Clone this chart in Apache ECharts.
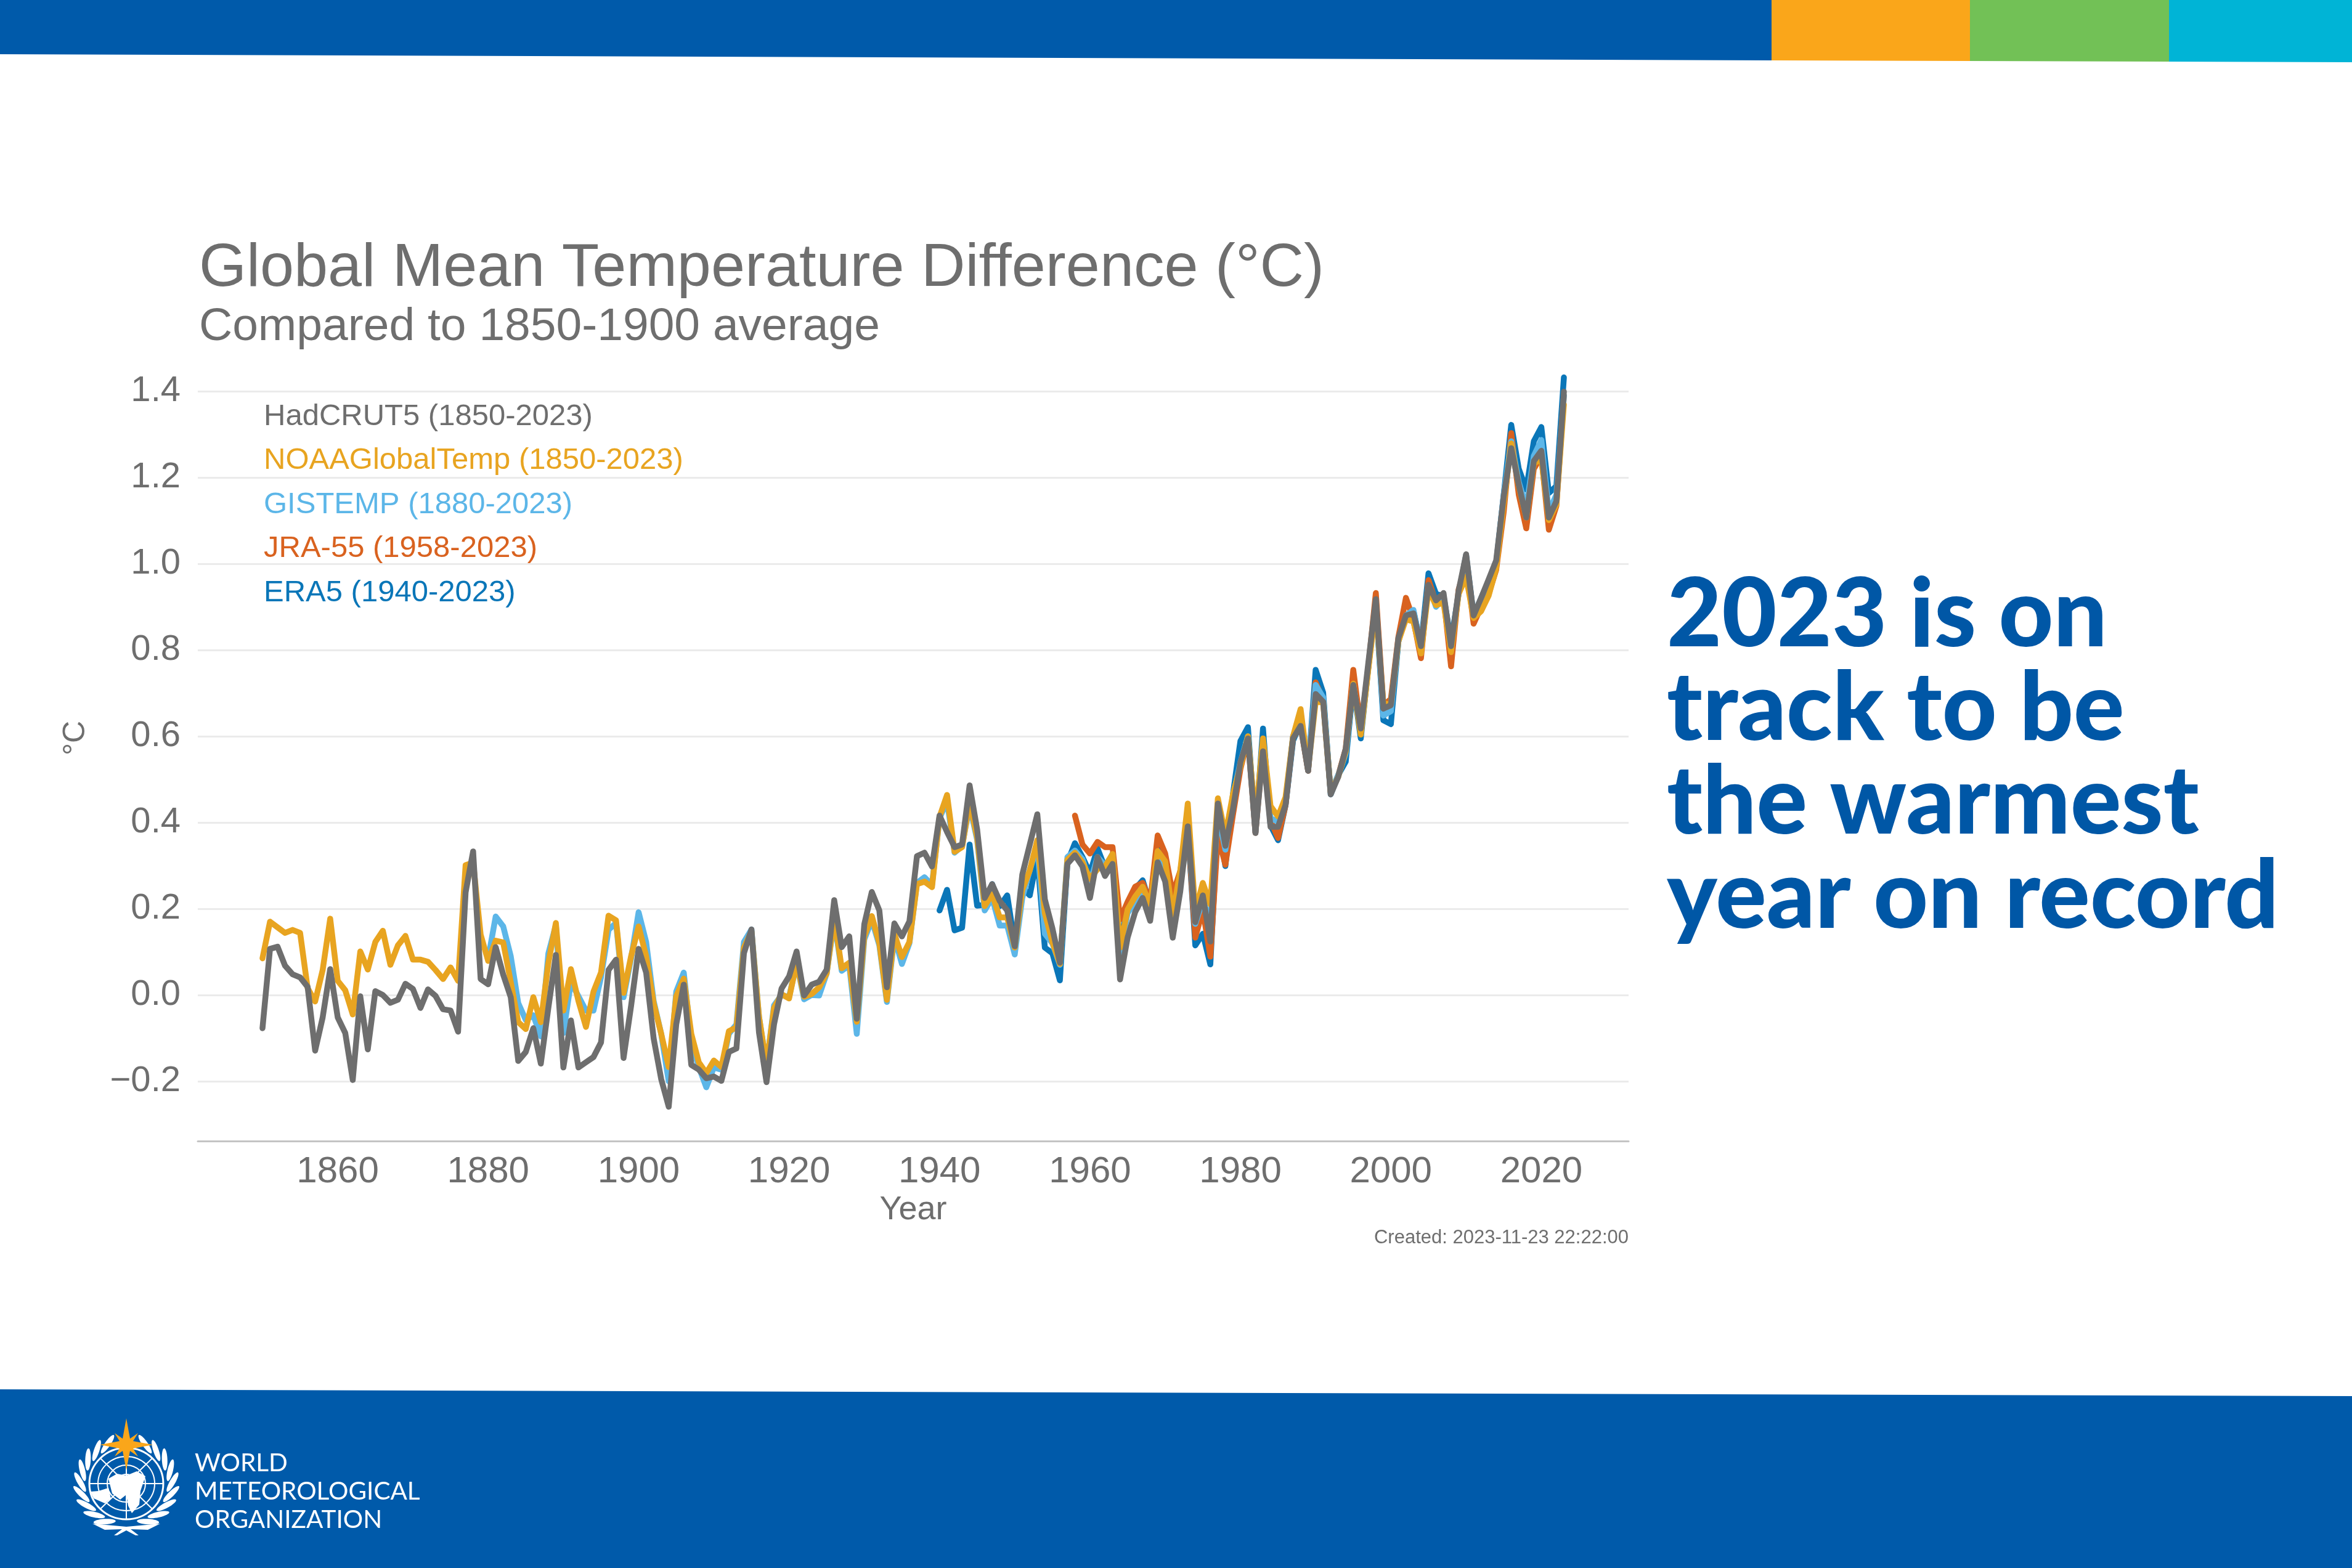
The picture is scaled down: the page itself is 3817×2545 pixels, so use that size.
<!DOCTYPE html>
<html>
<head>
<meta charset="utf-8">
<title>Global Mean Temperature Difference</title>
<style>
html,body{margin:0;padding:0;background:#fff}
#chart{width:3817px;height:2545px}
</style>
<script src="https://cdn.jsdelivr.net/npm/echarts@6/dist/echarts.min.js"></script>
</head>
<body>
<div id="chart"></div>
<script>
// values, one per year
var hadcrut5 = [ // 1850-2023
-0.077,0.107,0.112,0.068,0.048,0.041,0.019,-0.129,-0.052,0.060,
-0.052,-0.088,-0.197,-0.003,-0.126,0.009,0.000,-0.018,-0.011,0.026,
0.014,-0.030,0.013,-0.002,-0.033,-0.036,-0.085,0.238,0.333,0.037,
0.025,0.111,0.047,-0.005,-0.153,-0.132,-0.077,-0.159,-0.030,0.093,
-0.168,-0.059,-0.168,-0.156,-0.144,-0.110,0.058,0.082,-0.146,-0.025,
0.107,0.052,-0.101,-0.195,-0.259,-0.068,0.024,-0.162,-0.173,-0.193,
-0.189,-0.199,-0.132,-0.124,0.097,0.152,-0.087,-0.202,-0.068,0.015,
0.043,0.101,-0.001,0.024,0.031,0.059,0.220,0.111,0.136,-0.055,
0.164,0.239,0.196,0.018,0.166,0.136,0.171,0.322,0.330,0.298,
0.416,0.378,0.343,0.349,0.486,0.384,0.225,0.257,0.218,0.196,
0.113,0.279,0.349,0.419,0.222,0.155,0.075,0.304,0.324,0.298,
0.225,0.320,0.276,0.304,0.036,0.133,0.192,0.225,0.172,0.308,
0.263,0.133,0.240,0.391,0.169,0.231,0.124,0.444,0.346,0.430,
0.540,0.595,0.376,0.565,0.390,0.390,0.441,0.595,0.624,0.520,
0.698,0.680,0.465,0.506,0.571,0.719,0.618,0.770,0.918,0.664,
0.672,0.828,0.880,0.885,0.809,0.951,0.915,0.932,0.809,0.937,
1.022,0.880,0.921,0.964,1.008,1.156,1.268,1.183,1.107,1.238,
1.262,1.107,1.145,1.399];
var noaa = [ // 1850-2023
0.085,0.170,0.157,0.144,0.151,0.144,0.016,-0.015,0.058,0.177,
0.033,0.011,-0.045,0.101,0.059,0.123,0.149,0.070,0.115,0.137,
0.082,0.082,0.077,0.058,0.037,0.064,0.033,0.301,0.307,0.140,
0.079,0.126,0.122,0.030,-0.063,-0.079,-0.005,-0.063,0.074,0.167,
-0.036,0.060,-0.014,-0.074,0.008,0.052,0.184,0.173,0.005,0.090,
0.159,0.090,-0.019,-0.090,-0.167,-0.003,0.038,-0.090,-0.156,-0.181,
-0.152,-0.167,-0.084,-0.075,0.110,0.148,-0.050,-0.164,-0.030,0.002,
-0.008,0.075,-0.004,0.002,0.018,0.050,0.180,0.062,0.075,-0.062,
0.136,0.183,0.120,-0.011,0.142,0.088,0.123,0.257,0.263,0.250,
0.413,0.464,0.332,0.343,0.448,0.365,0.206,0.234,0.180,0.180,
0.110,0.244,0.289,0.359,0.190,0.123,0.072,0.314,0.330,0.308,
0.269,0.292,0.298,0.327,0.110,0.198,0.228,0.251,0.210,0.334,
0.310,0.186,0.287,0.444,0.192,0.260,0.210,0.456,0.370,0.465,
0.530,0.600,0.405,0.595,0.438,0.414,0.459,0.600,0.663,0.524,
0.680,0.678,0.470,0.506,0.565,0.722,0.604,0.755,0.900,0.675,
0.675,0.820,0.871,0.866,0.792,0.940,0.904,0.910,0.795,0.930,
0.970,0.874,0.890,0.926,0.990,1.140,1.279,1.180,1.107,1.232,
1.243,1.101,1.137,1.369];
var gistemp = [ // 1880-2023
0.085,0.182,0.159,0.090,-0.019,-0.058,-0.047,-0.096,0.096,0.162,
-0.088,0.030,-0.003,-0.036,-0.036,0.041,0.151,0.167,-0.005,0.085,
0.192,0.123,-0.014,-0.090,-0.200,0.008,0.052,-0.107,-0.167,-0.214,
-0.168,-0.173,-0.090,-0.068,0.123,0.152,-0.050,-0.165,-0.024,0.000,
-0.005,0.075,-0.010,0.000,-0.001,0.050,0.174,0.056,0.069,-0.090,
0.129,0.174,0.115,-0.016,0.135,0.072,0.120,0.260,0.273,0.255,
0.410,0.450,0.330,0.345,0.440,0.360,0.196,0.225,0.161,0.161,
0.094,0.225,0.290,0.346,0.142,0.120,0.070,0.320,0.335,0.315,
0.260,0.320,0.300,0.325,0.090,0.190,0.215,0.231,0.190,0.325,
0.290,0.175,0.280,0.390,0.165,0.220,0.169,0.420,0.337,0.460,
0.540,0.600,0.380,0.580,0.410,0.402,0.450,0.600,0.640,0.530,
0.719,0.690,0.470,0.510,0.560,0.720,0.610,0.760,0.910,0.648,
0.658,0.820,0.880,0.893,0.810,0.950,0.900,0.920,0.810,0.930,
0.990,0.880,0.920,0.960,1.000,1.160,1.284,1.190,1.130,1.250,
1.287,1.120,1.160,1.390];
var jra55 = [ // 1958-2023
0.416,0.349,
0.328,0.355,0.343,0.343,0.175,0.216,0.251,0.260,0.216,0.370,
0.328,0.234,0.287,0.388,0.133,0.198,0.089,0.370,0.302,0.417,
0.524,0.595,0.376,0.571,0.405,0.364,0.441,0.600,0.624,0.520,
0.725,0.683,0.470,0.509,0.571,0.754,0.618,0.760,0.932,0.672,
0.686,0.830,0.921,0.870,0.781,0.962,0.910,0.925,0.762,0.940,
1.000,0.861,0.900,0.930,0.986,1.120,1.303,1.160,1.082,1.220,
1.250,1.079,1.134,1.390];
var era5 = [ // 1940-2023
0.196,0.244,0.150,0.156,0.349,0.207,0.209,0.257,0.206,0.231,
0.117,0.250,0.231,0.320,0.110,0.097,0.034,0.308,0.352,0.320,
0.282,0.340,0.295,0.327,0.110,0.210,0.246,0.266,0.210,0.346,
0.310,0.180,0.280,0.390,0.115,0.142,0.071,0.405,0.299,0.465,
0.589,0.621,0.376,0.618,0.393,0.359,0.440,0.590,0.630,0.520,
0.754,0.701,0.465,0.510,0.541,0.720,0.595,0.760,0.910,0.637,
0.628,0.820,0.880,0.890,0.810,0.978,0.930,0.925,0.820,0.930,
1.020,0.880,0.920,0.960,1.000,1.160,1.322,1.220,1.172,1.284,
1.317,1.164,1.180,1.432];

var xTicks = [1860,1880,1900,1920,1940,1960,1980,2000,2020];
var yTicks = [-0.2,0,0.2,0.4,0.6,0.8,1.0,1.2,1.4];
var legendNames = ['HadCRUT5 (1850-2023)','NOAAGlobalTemp (1850-2023)','GISTEMP (1880-2023)','JRA-55 (1958-2023)','ERA5 (1940-2023)'];
var legendColors = ['#6e6e6e','#e8a420','#5cb6e8','#d9621f','#0a76b8'];
var headline = ['2023 is on','track to be','the warmest','year on record'];
var logoWords = ['WORLD','METEOROLOGICAL','ORGANIZATION'];

var FONT = '"Liberation Sans"';
var WMO_BLUE = '#005aaa';

function pairs(startYear, values){
    return values.map(function(v,i){ return [startYear+i, v]; });
}
function line(idx, startYear, values){
    return {
        name: legendNames[idx],
        type: 'line',
        showSymbol: false,
        symbol: 'none',
        clip: false,
        animation: false,
        lineStyle: {color: legendColors[idx], width: 9.5, cap: 'round', join: 'round'},
        itemStyle: {color: legendColors[idx]},
        data: pairs(startYear, values)
    };
}

// the slide furniture: colour bands, headline, logo
function poly(points, fill, z){
    return {type:'polygon', silent:true, z:z||1, shape:{points:points}, style:{fill:fill}};
}
var deco = [
    poly([[0,0],[2875,0],[2875,98],[0,88]], WMO_BLUE),
    poly([[2875,0],[3197,0],[3197,99],[2875,98]], '#faa61a'),
    poly([[3197,0],[3520,0],[3520,100],[3197,99]], '#72c156'),
    poly([[3520,0],[3817,0],[3817,101],[3520,100]], '#00b4d6'),
    poly([[0,2255],[3817,2266],[3817,2545],[0,2545]], WMO_BLUE)
];
headline.forEach(function(t,i){
    deco.push({type:'text', silent:true, z:5, x:2705, y:922+i*152.3,
        style:{text:t, fill:'#0057a6', font:'900 154px Lato'}});
});
logoWords.forEach(function(t,i){
    deco.push({type:'text', silent:true, z:5, x:316, y:2354+i*46.2,
        style:{text:t, fill:'#fff', font:'40.5px Lato'}});
});
deco.push({type:'text', silent:true, z:5, x:2643, y:1994,
    style:{text:'Created: 2023-11-23 22:22:00', fill:'#6e6e6e', font:'31px '+FONT, textAlign:'right'}});

// emblem
(function(){
    var cx=205, cy=2408;
    var ring = function(rx,ry,w){ return {type:'ellipse', silent:true, z:5, shape:{cx:cx,cy:cy,rx:rx,ry:ry}, style:{fill:'none',stroke:'#fff',lineWidth:w||2}}; };
    deco.push(ring(60,58,3), ring(46,44), ring(31,30), ring(16,15));
    [[cx-60,cy,cx+60,cy],[cx,cy-58,cx,cy+58],[cx-42,cy-41,cx+42,cy+41],[cx+42,cy-41,cx-42,cy+41]].forEach(function(l){
        deco.push({type:'line', silent:true, z:5, shape:{x1:l[0],y1:l[1],x2:l[2],y2:l[3]}, style:{stroke:'#fff',lineWidth:2}});
    });
    deco.push(poly([[176,2415],[160,2420],[147,2421],[152,2432],[170,2440],[180,2432]], '#fff', 6));
    deco.push(poly([[176,2400],[190,2392],[205,2395],[222,2388],[236,2396],[228,2420],[226,2442],[214,2456],[208,2444],[205,2426],[195,2434],[182,2424]], '#fff', 6));
    // laurel, leaves follow the arc
    for(var side=-1; side<=1; side+=2){
        for(var i=0;i<9;i++){
            var a=(28+i*16)*Math.PI/180;
            var lx=cx+side*75*Math.sin(a), ly=2408+70*Math.cos(a);
            var rot=Math.atan2(Math.sin(a), side*Math.cos(a)) - side*0.55;
            deco.push({type:'ellipse', silent:true, z:5, x:lx, y:ly, rotation:rot,
                shape:{cx:0,cy:0,rx:18,ry:4.5}, style:{fill:'#fff'}});
        }
    }
    deco.push(poly([[150,2473],[205,2478],[260,2473],[240,2483],[212,2482],[225,2492],[220,2492],[205,2484],[190,2492],[185,2492],[198,2482],[170,2483]], '#fff', 5));
    // star
    var star=[[205,2302],[211,2335],[224,2326],[216,2339],[248,2345],[216,2351],[224,2364],[211,2355],[205,2386],[199,2355],[186,2364],[194,2351],[162,2345],[194,2339],[186,2326],[199,2335]];
    deco.push(poly(star,'#faa61a',7));
})();

var chart = echarts.init(document.getElementById('chart'));
chart.setOption({
    backgroundColor: '#fff',
    animation: false,
    textStyle: {fontFamily: FONT},
    title: {
        left: 323, top: 383, padding: 0, itemGap: 0,
        text: 'Global Mean Temperature Difference (°C)',
        textStyle: {color:'#6e6e6e', fontSize:99, fontWeight:'normal', fontFamily:FONT, lineHeight:108},
        subtext: 'Compared to 1850-1900 average',
        subtextStyle: {color:'#6e6e6e', fontSize:75, fontFamily:FONT, lineHeight:80}
    },
    legend: {
        left: 423, top: 649, orient:'vertical', padding:0, itemGap:20, itemWidth:0, itemHeight:54,
        icon:'none', selectedMode:false,
        textStyle:{fontSize:49, fontFamily:FONT},
        data: legendNames.map(function(n,i){ return {name:n, icon:'none', textStyle:{color:legendColors[i], fontSize:49, fontFamily:FONT}}; })
    },
    grid: {left:321, right:1174, top:544, bottom:693},
    xAxis: {
        type:'value', min:1841.4, max:2031.6,
        name:'Year', nameLocation:'middle', nameGap:78,
        nameTextStyle:{color:'#6e6e6e', fontSize:54, fontFamily:FONT},
        axisLine:{show:true, onZero:false, lineStyle:{color:'#c4c4c4', width:3}},
        axisTick:{show:false, customValues:xTicks},
        splitLine:{show:false},
        axisLabel:{customValues:xTicks, color:'#6e6e6e', fontSize:60, margin:20, fontFamily:FONT, formatter:function(v){ return String(v); }}
    },
    yAxis: {
        type:'value', min:-0.3386, max:1.53,
        name:'°C', nameLocation:'middle', nameRotate:90, nameGap:173,
        nameTextStyle:{color:'#6e6e6e', fontSize:50, fontFamily:FONT},
        axisLine:{show:false},
        axisTick:{show:false, customValues:yTicks},
        splitLine:{show:true, lineStyle:{color:'#ebebeb', width:3}},
        axisLabel:{customValues:yTicks, color:'#6e6e6e', fontSize:58, margin:28, fontFamily:FONT, formatter:function(v){ return v.toFixed(1).replace('-','\u2212'); }}
    },
    series: [
        line(4,1940,era5),
        line(3,1958,jra55),
        line(2,1880,gistemp),
        line(1,1850,noaa),
        line(0,1850,hadcrut5)
    ],
    graphic: {elements: deco}
});
</script>
</body>
</html>
